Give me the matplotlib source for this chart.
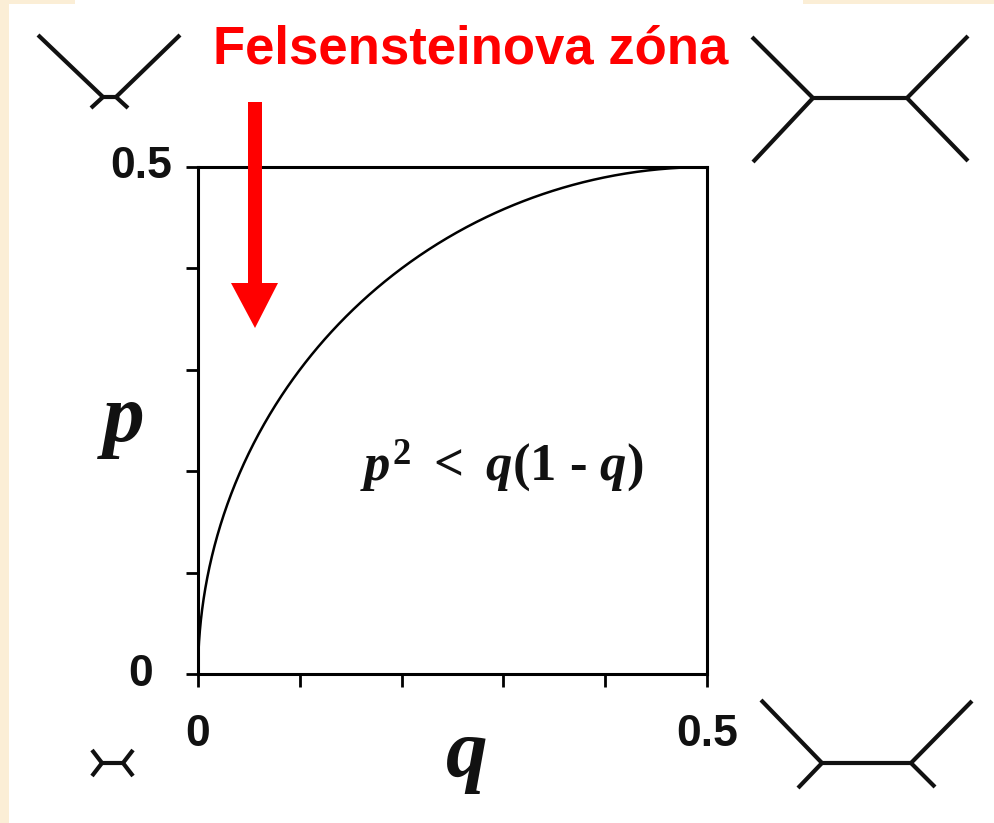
import numpy as np
import matplotlib
matplotlib.use("Agg")
import matplotlib.pyplot as plt
from matplotlib.lines import Line2D
from matplotlib.patches import Rectangle, Polygon

W, H = 994, 823

# boundary of the Felsenstein zone: p^2 = q(1 - q), for q in [0, 0.5]
q_vals = 0.5 * np.linspace(0.0, 1.0, 600) ** 2
p_vals = np.sqrt(q_vals * (1.0 - q_vals))

x_ticks = [0.0, 0.1, 0.2, 0.3, 0.4, 0.5]
y_ticks = [0.0, 0.1, 0.2, 0.3, 0.4, 0.5]
end_labels = ["0", "0.5"]

zone_title = "Felsensteinova zóna"
region_label = r"$p^{2}\ <\ q(1\text{ - }q)$"

# unrooted 4-taxon trees in the corners, drawn as segments (pixel coords)
trees = [
    # top left: two long branches joined by a tiny internal edge
    [((38, 35), (103, 97)), ((180, 35), (116, 97)), ((103, 97), (116, 97)),
     ((103, 97), (91, 108)), ((116, 97), (128, 108))],
    # top right: balanced tree
    [((752, 37), (813, 98)), ((753, 162), (813, 98)), ((813, 98), (907, 98)),
     ((907, 98), (968, 36)), ((907, 98), (968, 161))],
    # bottom left: small tree
    [((92, 750), (102, 763)), ((92, 776), (102, 763)), ((102, 763), (123, 763)),
     ((123, 763), (133, 750)), ((123, 763), (133, 776))],
    # bottom right: two long and two short leaves
    [((761, 700), (822, 763)), ((798, 788), (822, 763)), ((822, 763), (911, 763)),
     ((911, 763), (972, 701)), ((911, 763), (935, 787))],
]


def fx(x):
    return x / W


def fy(y):
    return 1.0 - y / H


plt.rcParams["mathtext.fontset"] = "custom"
plt.rcParams["mathtext.it"] = "Liberation Serif:italic:bold"
plt.rcParams["mathtext.rm"] = "Liberation Serif:bold"
plt.rcParams["mathtext.bf"] = "Liberation Serif:bold"

fig = plt.figure(figsize=(W / 100, H / 100), dpi=100)
fig.patch.set_facecolor("#fbeed6")
# white slide area, kept underneath the axes
fig.patches.append(Rectangle((fx(9), 0), 1 - fx(9), fy(4), transform=fig.transFigure,
                             facecolor="white", edgecolor="none", zorder=-5))
fig.patches.append(Rectangle((fx(75), fy(4)), fx(803) - fx(75), 1 - fy(4),
                             transform=fig.transFigure, facecolor="white",
                             edgecolor="none", zorder=-5))

ax = fig.add_axes([fx(198), fy(674), fx(707) - fx(198), fy(167) - fy(674)])
ax.set_zorder(1)
ax.set_facecolor("white")
ax.plot(q_vals, p_vals, color="black", lw=1.8, solid_capstyle="butt")
ax.set_xlim(0, 0.5)
ax.set_ylim(0, 0.5)
ax.set_xticks(x_ticks)
ax.set_yticks(y_ticks)
ax.set_xticklabels([])
ax.set_yticklabels([])
ax.tick_params(direction="out", length=9, width=2.0, color="black")
for s in ax.spines.values():
    s.set_linewidth(2.2)
    s.set_color("black")

tick_font = dict(family="Liberation Sans", fontweight="bold", fontsize=32,
                 color="#111111")
xt = ax.get_xaxis_transform()
yt = ax.get_yaxis_transform()
ax.text(-57 / 509, y_ticks[0], end_labels[0], transform=yt, ha="center",
        va="center", clip_on=False, **tick_font)
ax.text(-57 / 509, y_ticks[-1], end_labels[1], transform=yt, ha="center",
        va="center", clip_on=False, **tick_font)
ax.text(x_ticks[0], -40 / 507, end_labels[0], transform=xt, ha="center",
        va="top", clip_on=False, **tick_font)
ax.text(x_ticks[-1], -40 / 507, end_labels[1], transform=xt, ha="center",
        va="top", clip_on=False, **tick_font)

axis_font = dict(family="Liberation Serif", fontweight="bold", fontstyle="italic",
                 fontsize=60, color="#111111")
fig.text(fx(467), fy(776), "q", ha="center", va="baseline", **axis_font)
fig.text(fx(124), fy(441), "p", ha="center", va="baseline", **axis_font)

ax.text(0.298, 0.206, region_label, ha="center", va="center", fontsize=38,
        color="#111111")

fig.text(fx(471), fy(63), zone_title, ha="center", va="baseline",
         family="Liberation Sans", fontweight="bold", fontsize=38, color="#ff0000",
         zorder=3)

# red arrow pointing into the zone
shaft = Rectangle((fx(248), fy(285)), fx(262) - fx(248), fy(102) - fy(285),
                  transform=fig.transFigure, facecolor="#ff0000", edgecolor="none",
                  zorder=3)
head = Polygon([(fx(231), fy(283)), (fx(278), fy(283)), (fx(255), fy(328))],
               closed=True, transform=fig.transFigure, facecolor="#ff0000",
               edgecolor="none", zorder=3)
fig.patches.extend([shaft, head])

for tree in trees:
    for (x0, y0), (x1, y1) in tree:
        fig.lines.append(Line2D([fx(x0), fx(x1)], [fy(y0), fy(y1)],
                                transform=fig.transFigure, color="#111111",
                                lw=3.0, solid_capstyle="butt", zorder=3))

fig.savefig("out.png", dpi=100, facecolor=fig.get_facecolor())
